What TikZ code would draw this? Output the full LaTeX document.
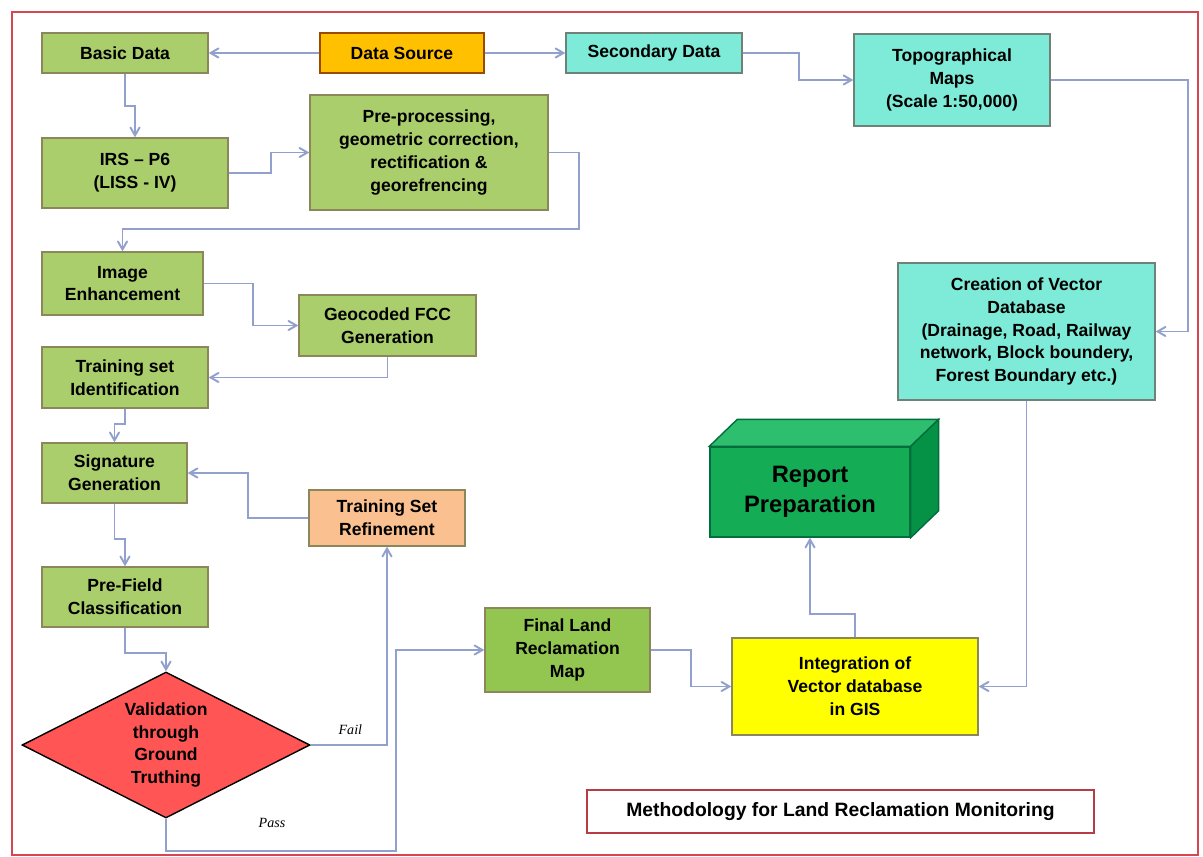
\documentclass[tikz,border=0pt]{standalone}
\usepackage{fontspec}
\setmainfont{Liberation Sans}
\newfontfamily\decisionfont{Liberation Serif}
\usepackage{tikz}
\usetikzlibrary{calc,arrows,shapes,positioning}

\definecolor{leaf}{RGB}{170,206,108}
\definecolor{leafdark}{RGB}{146,198,80}
\definecolor{leafline}{RGB}{140,135,90}
\definecolor{aqua}{RGB}{125,235,215}
\definecolor{aqualine}{RGB}{110,130,120}
\definecolor{sourceorange}{RGB}{255,192,0}
\definecolor{peach}{RGB}{250,192,144}
\definecolor{gisyellow}{RGB}{255,255,0}
\definecolor{reportfront}{RGB}{20,172,85}
\definecolor{reporttop}{RGB}{45,190,110}
\definecolor{reportside}{RGB}{5,145,70}
\definecolor{reportline}{RGB}{0,110,60}
\definecolor{checkred}{RGB}{255,85,85}
\definecolor{linkblue}{RGB}{145,160,205}
\definecolor{framered}{RGB}{215,70,80}

\begin{document}
\begin{tikzpicture}[x=0.02cm, y=-0.02cm, >=angle 60,
   font=\bfseries\fontsize{10}{13}\selectfont,
   box/.style={rectangle, draw=leafline, line width=0.8pt, align=center, inner sep=2pt},
   greenbox/.style={box, fill=leaf},
   aquabox/.style={box, fill=aqua, draw=aqualine},
   link/.style={->, draw=linkblue, line width=1.1pt},
   decision/.style={font=\decisionfont\itshape\fontsize{8}{9}\selectfont}]
  \useasboundingbox (0,0) rectangle (1203,857);
  \draw[framered, line width=1.1pt] (12,12) rectangle (1198,855);

  % left column and sources
  \node[greenbox, minimum width=3.32cm, minimum height=0.8cm] (basic) at (125,53) {Basic Data};
  \node[box, fill=sourceorange, draw=orange!60!black, minimum width=3.28cm, minimum height=0.8cm] (source) at (402,53) {Data Source};
  \node[aquabox, minimum width=3.52cm, minimum height=0.8cm] (secondary) at (654,53) {Secondary Data};
  \node[aquabox, minimum width=3.92cm, minimum height=1.84cm] (topo) at (952,80) {Topographical\\Maps\\(Scale 1:50,000)};
  \node[greenbox, minimum width=3.72cm, minimum height=1.4cm] (irs) at (135,173) {IRS – P6\\(LISS - IV)};
  \node[greenbox, minimum width=4.76cm, minimum height=2.3cm] (prep) at (429,152.5) {Pre-processing,\\geometric correction,\\rectification \&\\georefrencing};
  \node[greenbox, minimum width=3.22cm, minimum height=1.26cm] (enh) at (122.5,283.5) {Image\\Enhancement};
  \node[greenbox, minimum width=3.54cm, minimum height=1.22cm] (fcc) at (387.5,325.5) {Geocoded FCC\\Generation};
  \node[greenbox, minimum width=3.32cm, minimum height=1.22cm] (train) at (125,377.5) {Training set\\Identification};
  \node[greenbox, minimum width=2.9cm, minimum height=1.2cm] (sig) at (114.5,473) {Signature\\Generation};
  \node[box, fill=peach, minimum width=3.12cm, minimum height=1.12cm] (refine) at (387,518) {Training Set\\Refinement};
  \node[greenbox, minimum width=3.32cm, minimum height=1.2cm] (prefield) at (125,597) {Pre-Field\\Classification};
  \node[diamond, draw=black, line width=0.8pt, fill=checkred, align=center, inner sep=0pt, shape aspect=2,
        minimum width=5.76cm, minimum height=2.92cm] (valid) at (166,745) {Validation\\through\\Ground\\Truthing};

  % right part
  \node[box, fill=leafdark, minimum width=3.3cm, minimum height=1.68cm] (final) at (567.5,650) {Final Land\\Reclamation\\Map};
  \node[box, fill=gisyellow, minimum width=4.92cm, minimum height=1.94cm] (integ) at (855,686.5) {Integration of\\Vector database\\in GIS};
  \node[aquabox, minimum width=5.14cm, minimum height=2.74cm] (create) at (1026.5,331.5) {Creation of Vector\\Database\\(Drainage, Road, Railway\\network, Block boundery,\\Forest Boundary etc.)};
  \node[rectangle, draw=reportline, fill=reportfront, line width=0.8pt, align=center,
        minimum width=4cm, minimum height=1.8cm, font=\bfseries\fontsize{13.5}{17}\selectfont] (report) at (810,492) {Report\\Preparation};
  \filldraw[fill=reporttop, draw=reportline, line width=0.8pt] (report.north west) -- ++(28,-27) -- ($(report.north east)+(28,-27)$) -- (report.north east) -- cycle;
  \filldraw[fill=reportside, draw=reportline, line width=0.8pt] (report.north east) -- ++(28,-27) -- ($(report.south east)+(28,-27)$) -- (report.south east) -- cycle;
  \node[rectangle, draw=framered!85!black, fill=white, line width=1.1pt, minimum width=10.14cm, minimum height=0.86cm,
        font=\bfseries\fontsize{11}{13}\selectfont] (title) at (840.5,811.5) {Methodology for Land Reclamation Monitoring};

  % connectors
  \draw[link] (source) -- (basic);
  \draw[link] (source) -- (secondary);
  \draw[link] (secondary.east) -- ++(56,0) |- (topo.west);
  \draw[link] (basic.south) -- ++(0,32) -| (irs.north);
  \draw[link] (irs.east) -- ++(42,0) |- (prep.west);
  \draw[link] (prep.east) -- ++(30,0) |- ($(enh.north)+(0,-22)$) -- (enh.north);
  \draw[link] (enh.east) -- ++(49,0) |- (fcc.west);
  \draw[link] (fcc.south) |- (train.east);
  \draw[link] (train.south) -- ++(0,15) -| (sig.north);
  \draw[link] (sig.south) -- ++(0,35) -| (prefield.north);
  \draw[link] (prefield.south) -- ++(0,25) -| (valid.north);
  \draw[link] (valid.east) -| node[pos=0.26, above=2pt, decision] {Fail} (refine.south);
  \draw[link] (refine.west) -- ++(-60,0) |- (sig.east);
  \draw[link] (valid.south) -- ++(0,32) -| node[pos=0.23, above=9pt, decision] {Pass} ($(final.west)+(-88,0)$) -- (final.west);
  \draw[link] (final.east) -- ++(40,0) |- (integ.west);
  \draw[link] (integ.north) -- ++(0,-23) -| (report.south);
  \draw[link] (create.south) |- (integ.east);
  \draw[link] (topo.east) -- ++(137,0) |- (create.east);
\end{tikzpicture}
\end{document}
